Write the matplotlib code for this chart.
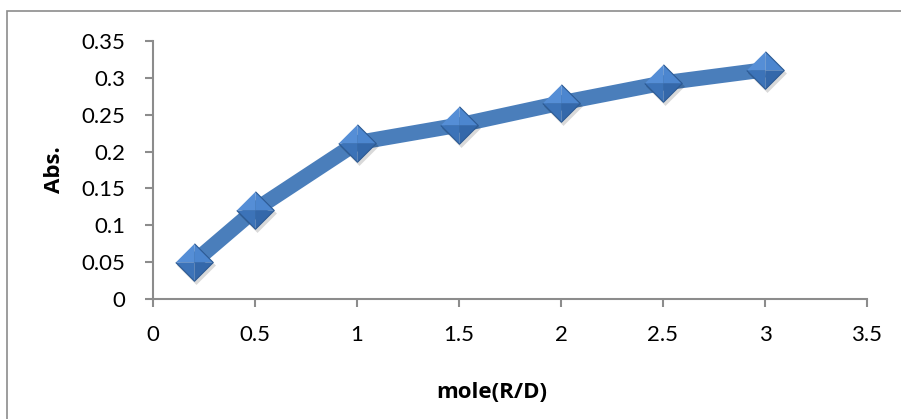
import matplotlib.pyplot as plt
from matplotlib.patches import Rectangle

# molar ratio vs absorbance
mole_ratio = [0.2, 0.5, 1, 1.5, 2, 2.5, 3]
absorbance = [0.050, 0.121, 0.212, 0.236, 0.266, 0.293, 0.311]
xticks = [0, 0.5, 1, 1.5, 2, 2.5, 3, 3.5]
yticks = [0, 0.05, 0.1, 0.15, 0.2, 0.25, 0.3, 0.35]
ytick_labels = ["0", "0.05", "0.1", "0.15", "0.2", "0.25", "0.3", "0.35"]

plt.rcParams['font.family'] = ['Lato', 'DejaVu Sans']

W, H = 901, 419
fig = plt.figure(figsize=(W / 100, H / 100), dpi=100)
fig.patches.append(Rectangle((7 / W, -0.1), 1.2, 1 - 11 / H + 0.1, transform=fig.transFigure,
                             fill=False, edgecolor="#8c8c8c", linewidth=1.2))

ax = fig.add_axes([153 / W, 120 / H, 714 / W, 258 / H])
ax.set_xlim(0, 3.5)
ax.set_ylim(0, 0.35)

# thick connecting line
ax.plot(mole_ratio, absorbance, color="#4a7ebb", linewidth=11, solid_capstyle="butt",
        solid_joinstyle="round", zorder=2)

# diamond markers drawn as four shaded facets (pyramid look)
diamond = [(0, 1), (1, 0), (0, -1), (-1, 0)]
ax.plot([x + 0.012 for x in mole_ratio], [y - 0.004 for y in absorbance], linestyle="none",
        marker=diamond, markersize=28, color="#000000", alpha=0.15, markeredgewidth=0, zorder=3)
facets = [
    ([(0, 0), (0, 1), (-1, 0)], "#558ed6"),
    ([(0, 0), (0, 1), (1, 0)], "#4c86cf"),
    ([(0, 0), (-1, 0), (0, -1)], "#3c73b8"),
    ([(0, 0), (1, 0), (0, -1)], "#3468aa"),
]
for verts, col in facets:
    ax.plot(mole_ratio, absorbance, linestyle="none", marker=verts, markersize=27,
            color=col, markeredgewidth=0, zorder=4)
ax.plot(mole_ratio, absorbance, linestyle="none", marker=diamond, markersize=27,
        markerfacecolor="none", markeredgecolor="#2c5a93", markeredgewidth=0.8, zorder=5)

for s in ["top", "right"]:
    ax.spines[s].set_visible(False)
for s in ["left", "bottom"]:
    ax.spines[s].set_color("#8c8c8c")
    ax.spines[s].set_linewidth(1.5)

ax.set_xticks(xticks)
ax.set_xticklabels([f"{t:g}" for t in xticks])
ax.set_yticks(yticks)
ax.set_yticklabels(ytick_labels)
ax.tick_params(direction="out", length=6, width=1.5, color="#8c8c8c", labelsize=16,
               labelcolor="#000000")
ax.tick_params(axis="y", pad=14)
ax.tick_params(axis="x", pad=13)

label_font = dict(family=["Open Sans", "DejaVu Sans"], fontsize=16, fontweight="bold")
fig.text(492 / W, 1 - 392 / H, "mole(R/D)", ha="center", va="center", **label_font)
fig.text(55 / W, 1 - 170 / H, "Abs.", ha="center", va="center", rotation=90, **label_font)

fig.savefig("out.png", dpi=100)
